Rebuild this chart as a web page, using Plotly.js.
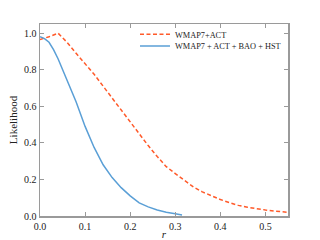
<!DOCTYPE html>
<html>
<head>
<meta charset="utf-8">
<script src="https://cdn.plot.ly/plotly-3.0.1.min.js"></script>
<style>html,body{margin:0;padding:0;background:#fff;}#chart{width:320px;height:240px;}</style>
</head>
<body>
<div id="chart"></div>
<script>
var seriesNames = ["WMAP7+ACT", "WMAP7 + ACT + BAO + HST"];
var rRed = [0, 0.02, 0.04, 0.06, 0.08, 0.10, 0.12, 0.14, 0.16, 0.18, 0.20, 0.22, 0.24, 0.26, 0.28, 0.30, 0.32, 0.34, 0.36, 0.38, 0.40, 0.42, 0.44, 0.46, 0.48, 0.50, 0.52, 0.54, 0.55];
var likeRed = [0.965, 0.98, 1.0, 0.95, 0.89, 0.835, 0.775, 0.71, 0.645, 0.578, 0.512, 0.445, 0.385, 0.325, 0.27, 0.232, 0.195, 0.159, 0.132, 0.11, 0.09, 0.073, 0.058, 0.048, 0.039, 0.033, 0.027, 0.022, 0.02];
var rBlue = [0, 0.01, 0.02, 0.03, 0.04, 0.06, 0.08, 0.10, 0.12, 0.14, 0.16, 0.18, 0.20, 0.22, 0.24, 0.26, 0.28, 0.30, 0.315];
var likeBlue = [0.98, 0.97, 0.95, 0.91, 0.86, 0.745, 0.625, 0.49, 0.375, 0.28, 0.21, 0.155, 0.11, 0.072, 0.05, 0.033, 0.02, 0.012, 0.006];
var xTicks = [0.0, 0.1, 0.2, 0.3, 0.4, 0.5];
var yTicks = [0.0, 0.2, 0.4, 0.6, 0.8, 1.0];

var font = "Liberation Serif, Times New Roman, serif";
var frame = "#9a9a9a";
var traces = [
  {x: rRed, y: likeRed, name: seriesNames[0], mode: "lines", legend: "legend",
   line: {color: "#ff5a2a", width: 1.5, dash: "4px,2.5px"}},
  {x: rBlue, y: likeBlue, name: seriesNames[1], mode: "lines", legend: "legend2",
   line: {color: "#5a9fd6", width: 1.5}}
];
function axis(ticks) {
  return {
    tickvals: ticks, ticktext: ticks.map(function(v){return v.toFixed(1);}),
    ticks: "inside", ticklen: 4, tickwidth: 1, tickcolor: frame,
    mirror: "ticks", showline: true, linecolor: frame, linewidth: 1.5,
    showgrid: false, zeroline: false,
    tickfont: {family: font, size: 10, color: "#222"}
  };
}
var xa = axis(xTicks);
xa.range = [0, 0.55];
xa.title = {text: "<i>r</i>", font: {family: font, size: 11, color: "#222"}, standoff: 1};
var ya = axis(yTicks);
ya.range = [0, 1.05];
ya.title = {text: "Likelihood", font: {family: font, size: 11, color: "#222"}, standoff: 4};

function leg(y) {
  return {x: 0.383, y: y, xanchor: "left", yanchor: "middle",
    bgcolor: "rgba(0,0,0,0)", borderwidth: 0,
    font: {family: font, size: 8.3, color: "#222"}};
}
var layout = {
  width: 320, height: 240,
  margin: {l: 40, r: 32, t: 24, b: 24},
  paper_bgcolor: "#fff", plot_bgcolor: "#fff",
  xaxis: xa, yaxis: ya,
  showlegend: true,
  legend: leg(0.946),
  legend2: leg(0.886)
};
Plotly.newPlot("chart", traces, layout, {displayModeBar: false, staticPlot: true});
</script>
</body>
</html>
